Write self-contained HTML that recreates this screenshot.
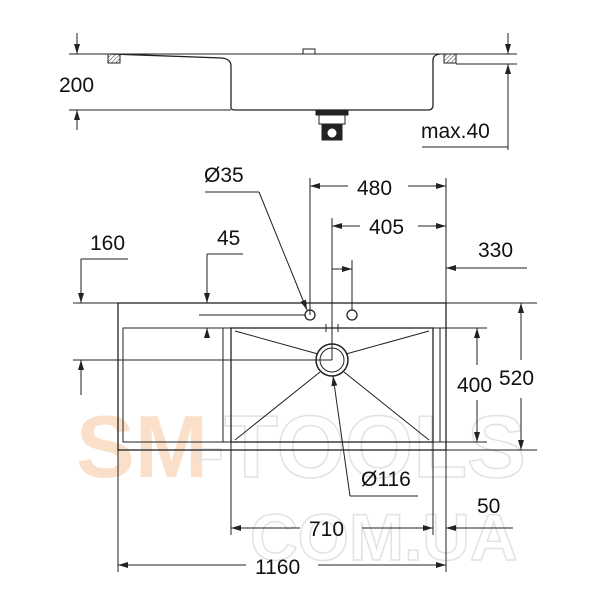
<!DOCTYPE html>
<html><head><style>html,body{margin:0;padding:0;background:#fff}svg{display:block}</style></head>
<body>
<svg width="600" height="600" viewBox="0 0 600 600" xmlns="http://www.w3.org/2000/svg" font-family="Liberation Sans, sans-serif">
<defs>
<marker id="a" viewBox="0 0 10 6" refX="10" refY="3" markerWidth="10" markerHeight="6" orient="auto-start-reverse" markerUnits="userSpaceOnUse"><path d="M0,0 L10,3 L0,6 z" fill="#222"/></marker>
<pattern id="h" width="3" height="3" patternUnits="userSpaceOnUse" patternTransform="rotate(45)"><line x1="0" y1="0" x2="0" y2="3" stroke="#333" stroke-width="1"/></pattern>
</defs>
<!-- watermark -->
<g font-weight="bold" font-size="88">
<text x="76" y="477" fill="#fae0c8">SM</text>
<text x="195" y="477" fill="none" stroke="#e2e2e2" stroke-width="1.5">-TOOLS</text>
<text x="250" y="560" font-size="66" fill="none" stroke="#e2e2e2" stroke-width="1.5">COM.UA</text>
</g>
<g stroke="#222" stroke-width="1" fill="none">
<line x1="69" y1="54" x2="517" y2="54"/>
<path d="M112,54 L222,58 Q231,59 231,66 L231,108 Q231,110 236,110 L428,110 Q433,110 433,105 L433,60 Q433,55 440,54" stroke-width="1.3"/>
<rect x="108" y="54" width="12" height="9" fill="url(#h)" stroke="#222"/>
<rect x="444" y="54" width="12" height="9" fill="url(#h)" stroke="#222"/>
<rect x="303" y="49" width="12" height="5" fill="#fff"/>
<line x1="69" y1="110" x2="231" y2="110"/>
<line x1="77" y1="33" x2="77" y2="54" marker-end="url(#a)"/>
<line x1="77" y1="130" x2="77" y2="110" marker-end="url(#a)"/>
<line x1="456" y1="64" x2="517" y2="64"/>
<line x1="508" y1="33" x2="508" y2="54" marker-end="url(#a)"/>
<line x1="508" y1="150" x2="508" y2="64" marker-end="url(#a)"/>
<line x1="422" y1="147" x2="508" y2="147"/>
<rect x="316" y="110" width="32" height="5" fill="#222"/>
<rect x="319" y="115" width="26" height="9" fill="#fff"/>
<rect x="322" y="124" width="20" height="16" fill="#222"/>
<circle cx="332" cy="133" r="5" fill="#fff"/>

<line x1="73" y1="303" x2="537" y2="303"/>
<rect x="118" y="303" width="328" height="147" stroke-width="1.3"/>
<rect x="123" y="328" width="317" height="114"/>
<line x1="223" y1="328" x2="223" y2="442"/>
<rect x="231" y="328" width="202" height="114" stroke-width="1.3"/>
<line x1="433" y1="328" x2="487" y2="328"/>
<line x1="433" y1="442" x2="487" y2="442"/>
<line x1="446" y1="450" x2="537" y2="450"/>
<line x1="235" y1="331" x2="318" y2="354"/>
<line x1="429" y1="331" x2="346" y2="354"/>
<line x1="235" y1="440" x2="320" y2="372"/>
<line x1="429" y1="440" x2="344" y2="372"/>
<circle cx="332" cy="360" r="16" stroke-width="1.5"/>
<circle cx="332" cy="360" r="12"/>
<circle cx="310" cy="315" r="5" stroke-width="1.3"/>
<circle cx="352" cy="315" r="5" stroke-width="1.3"/>
<line x1="326" y1="324" x2="326" y2="332"/><line x1="338" y1="324" x2="338" y2="332"/>

<line x1="310" y1="178" x2="310" y2="315"/>
<line x1="446" y1="178" x2="446" y2="303"/>
<line x1="310" y1="186" x2="348" y2="186" marker-start="url(#a)"/>
<line x1="408" y1="186" x2="446" y2="186" marker-end="url(#a)"/>
<line x1="332" y1="218" x2="332" y2="360"/>
<line x1="332" y1="226" x2="360" y2="226" marker-start="url(#a)"/>
<line x1="418" y1="226" x2="446" y2="226" marker-end="url(#a)"/>
<line x1="352" y1="260" x2="352" y2="310"/>
<line x1="332" y1="269" x2="352" y2="269" marker-end="url(#a)"/>
<line x1="527" y1="268" x2="446" y2="268" marker-end="url(#a)"/>
<line x1="128" y1="259" x2="81" y2="259"/>
<line x1="81" y1="259" x2="81" y2="303" marker-end="url(#a)"/>
<line x1="243" y1="254" x2="207" y2="254"/>
<line x1="207" y1="254" x2="207" y2="303" marker-end="url(#a)"/>
<line x1="207" y1="338" x2="207" y2="328" marker-end="url(#a)"/>
<line x1="199" y1="315" x2="305" y2="315"/>
<line x1="205" y1="192" x2="259" y2="192"/>
<line x1="259" y1="192" x2="307" y2="310" marker-end="url(#a)"/>
<line x1="73" y1="360" x2="332" y2="360"/>
<line x1="81" y1="395" x2="81" y2="360" marker-end="url(#a)"/>
<line x1="477" y1="365" x2="477" y2="328" marker-end="url(#a)"/>
<line x1="477" y1="400" x2="477" y2="442" marker-end="url(#a)"/>
<line x1="521" y1="360" x2="521" y2="303" marker-end="url(#a)"/>
<line x1="521" y1="398" x2="521" y2="450" marker-end="url(#a)"/>
<line x1="350" y1="496" x2="418" y2="496"/>
<line x1="350" y1="496" x2="333" y2="376" marker-end="url(#a)"/>
<line x1="231" y1="442" x2="231" y2="535"/>
<line x1="433" y1="442" x2="433" y2="535"/>
<line x1="446" y1="450" x2="446" y2="572"/>
<line x1="118" y1="450" x2="118" y2="572"/>
<line x1="231" y1="528" x2="300" y2="528" marker-start="url(#a)"/>
<line x1="362" y1="528" x2="433" y2="528" marker-end="url(#a)"/>
<line x1="513" y1="528" x2="446" y2="528" marker-end="url(#a)"/>
<line x1="118" y1="565" x2="246" y2="565" marker-start="url(#a)"/>
<line x1="318" y1="565" x2="446" y2="565" marker-end="url(#a)"/>
</g>
<g fill="#111" font-size="21">
<text x="59" y="92">200</text>
<text x="421" y="138">max.40</text>
<text x="204" y="182">Ø35</text>
<text x="357" y="195">480</text>
<text x="369" y="234">405</text>
<text x="90" y="250">160</text>
<text x="217" y="245">45</text>
<text x="478" y="257">330</text>
<text x="457" y="392">400</text>
<text x="499" y="385">520</text>
<text x="361" y="486">Ø116</text>
<text x="477" y="513">50</text>
<text x="309" y="536">710</text>
<text x="255" y="574">1160</text>
</g>
</svg>
</body></html>
